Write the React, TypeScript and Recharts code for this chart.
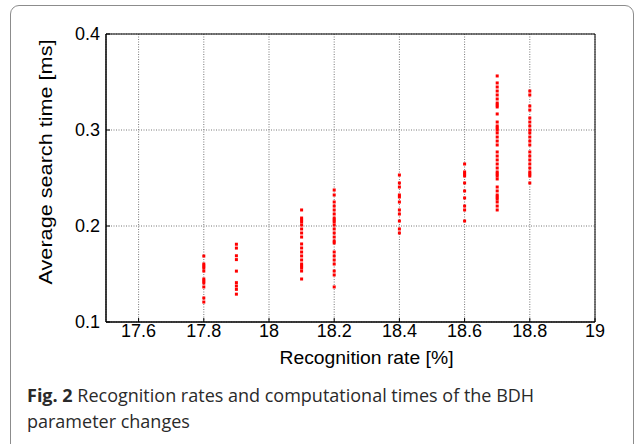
import React from 'react';
import {
  ScatterChart,
  Scatter,
  XAxis,
  YAxis,
  CartesianGrid,
  ReferenceArea,
} from 'recharts';

// Recognition rate categories [%]
const rates = [17.8, 17.9, 18.1, 18.2, 18.4, 18.6, 18.7, 18.8];

// Average search times [ms] per recognition rate
const times178 = [0.1687, 0.1604, 0.1583, 0.1563, 0.1531, 0.1448, 0.1427, 0.1406, 0.1365, 0.125, 0.1208];
const times179 = [0.181, 0.177, 0.169, 0.165, 0.153, 0.141, 0.1375, 0.134, 0.129];
const times181 = [0.2167, 0.2083, 0.2063, 0.2042, 0.201, 0.1969, 0.1927, 0.1885, 0.1813, 0.1771, 0.1729, 0.1688, 0.1646, 0.1604, 0.1583, 0.1563, 0.1531, 0.1448];
const times182 = [0.2375, 0.2323, 0.225, 0.2208, 0.2167, 0.2125, 0.2083, 0.2063, 0.2042, 0.201, 0.1969, 0.1927, 0.1885, 0.1844, 0.1823, 0.1729, 0.1688, 0.1646, 0.1604, 0.1531, 0.149, 0.1365];
const times184 = [0.2531, 0.2448, 0.2406, 0.2323, 0.2302, 0.225, 0.2167, 0.2125, 0.2052, 0.1969, 0.1927];
const times186 = [0.2646, 0.2563, 0.2542, 0.2521, 0.2448, 0.2365, 0.2292, 0.2208, 0.2167, 0.2052];
const times187 = [0.3563, 0.349, 0.3448, 0.3406, 0.3365, 0.3323, 0.3281, 0.326, 0.324, 0.3167, 0.3083, 0.3042, 0.3021, 0.3, 0.2969, 0.2927, 0.2885, 0.2844, 0.2771, 0.2729, 0.2688, 0.2646, 0.2604, 0.2563, 0.2542, 0.2521, 0.249, 0.2406, 0.2365, 0.2323, 0.2302, 0.2281, 0.225, 0.2208, 0.2167];
const times188 = [0.3406, 0.3365, 0.325, 0.3208, 0.3125, 0.3083, 0.3042, 0.3, 0.2969, 0.2927, 0.2885, 0.2844, 0.2771, 0.2729, 0.2688, 0.2646, 0.2604, 0.2563, 0.2542, 0.2521, 0.2448];

const timeColumns = [times178, times179, times181, times182, times184, times186, times187, times188];

const xTicks = [17.6, 17.8, 18, 18.2, 18.4, 18.6, 18.8, 19];
const yTicks = [0.1, 0.2, 0.3, 0.4];

const xLabel = 'Recognition rate [%]';
const yLabel = 'Average search time [ms]';
const captionBold = 'Fig. 2';
const captionText = ' Recognition rates and computational times of the BDH parameter changes';

const points = rates.flatMap((r, i) => timeColumns[i].map((t) => ({ x: r, y: t })));

const AXIS_FONT = '"Liberation Sans", Arial, Helvetica, sans-serif';

const fmt = (v: number) => String(parseFloat(v.toFixed(2)));

const Square = (props: any) => {
  const { cx, cy } = props;
  if (cx == null || cy == null) return null;
  return <rect x={cx - 1.5} y={cy - 1.5} width={3} height={3} fill="#ff0000" />;
};

const XTick = (props: any) => {
  const { x, y, payload } = props;
  const axisY = y - 4;
  return (
    <g>
      <line x1={x} y1={axisY} x2={x} y2={axisY - 4} stroke="#000" strokeWidth={1} />
      <text x={x} y={y + 11} textAnchor="middle" fontSize={18} fontFamily={AXIS_FONT} fill="#000">
        {fmt(payload.value)}
      </text>
    </g>
  );
};

const YTick = (props: any) => {
  const { x, y, payload } = props;
  const axisX = x + 6;
  return (
    <g>
      <line x1={axisX} y1={y} x2={axisX + 4} y2={y} stroke="#000" strokeWidth={1} />
      <text x={x} y={y} dy="0.36em" textAnchor="end" fontSize={18} fontFamily={AXIS_FONT} fill="#000">
        {fmt(payload.value)}
      </text>
    </g>
  );
};

const XTitle = (props: any) => {
  const vb = props.viewBox;
  return (
    <text
      x={vb.x + vb.width / 2 + 16}
      y={vb.y + 42}
      textAnchor="middle"
      fontSize={18}
      fontFamily={AXIS_FONT}
      fill="#000"
      textLength={174}
      lengthAdjust="spacingAndGlyphs"
    >
      {xLabel}
    </text>
  );
};

const YTitle = (props: any) => {
  const vb = props.viewBox;
  const cx = vb.x + 52;
  const cy = vb.y + vb.height / 2 - 16;
  return (
    <text
      x={cx}
      y={cy}
      transform={`rotate(-90 ${cx} ${cy})`}
      textAnchor="middle"
      fontSize={19}
      fontFamily={AXIS_FONT}
      fill="#000"
      textLength={245}
      lengthAdjust="spacingAndGlyphs"
    >
      {yLabel}
    </text>
  );
};

export default function App() {
  return (
    <div
      style={{
        position: 'absolute',
        left: 0,
        top: 0,
        width: 635,
        height: 444,
        overflow: 'hidden',
        background: '#fff',
      }}
    >
      <div
        style={{
          position: 'absolute',
          left: 10,
          top: 5,
          width: 622,
          height: 480,
          border: '1px solid #8c8c8c',
          borderRadius: 9,
        }}
      />
      <div style={{ position: 'absolute', left: 0, top: 0 }}>
        <ScatterChart width={635} height={444} margin={{ top: 34, right: 40, bottom: 92, left: 0 }}>
          <CartesianGrid stroke="#777" strokeDasharray="1 1.5" />
          <XAxis
            type="number"
            dataKey="x"
            domain={[17.5, 19]}
            ticks={xTicks}
            allowDataOverflow
            height={30}
            tickLine={false}
            tickSize={0}
            tickMargin={4}
            axisLine={{ stroke: '#000' }}
            tick={<XTick />}
            label={<XTitle />}
          />
          <YAxis
            type="number"
            dataKey="y"
            domain={[0.1, 0.4]}
            ticks={yTicks}
            allowDataOverflow
            width={106}
            tickLine={false}
            tickSize={0}
            tickMargin={6}
            axisLine={{ stroke: '#000' }}
            tick={<YTick />}
            label={<YTitle />}
          />
          <ReferenceArea x1={17.5} x2={19} y1={0.1} y2={0.4} fill="none" stroke="#000" strokeWidth={1} ifOverflow="visible" />
          <Scatter data={points} shape={<Square />} isAnimationActive={false} />
        </ScatterChart>
      </div>
      <div
        style={{
          position: 'absolute',
          left: 27,
          top: 382,
          width: 540,
          fontFamily: '"Open Sans", "Noto Sans", sans-serif',
          fontSize: 18,
          lineHeight: '26px',
          color: '#2a2a2a',
        }}
      >
        <b>{captionBold}</b>
        {captionText}
      </div>
    </div>
  );
}
